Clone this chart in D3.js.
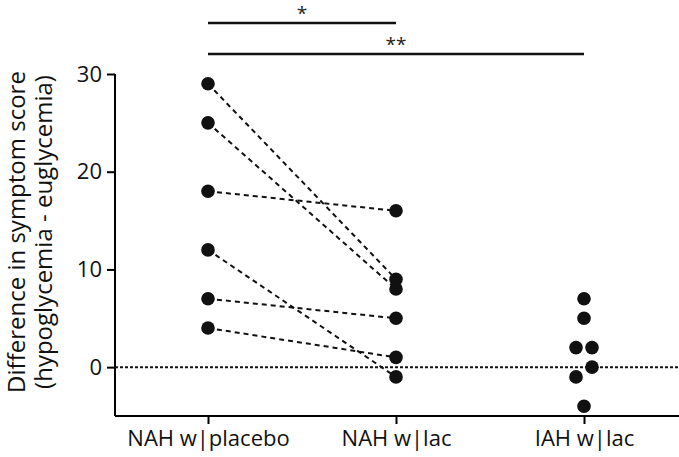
<!DOCTYPE html>
<html><head><meta charset="utf-8">
<script src="https://cdn.jsdelivr.net/npm/d3@7"></script>
<style>body{margin:0;background:#fff}</style>
</head><body>
<script>
const categories = ["NAH w|placebo", "NAH w|lac", "IAH w|lac"];
const placebo = [29, 25, 18, 12, 7, 4];
const nahLac = [9, 8, 16, -1, 5, 1];
const iahLac = [7, 5, 2, 2, 0, -1, -4];
const iahJitter = [0, 0, -1, 1, 1, -1, 0];
const yTicks = [0, 10, 20, 30];
const sigBars = [{from: 0, to: 1, label: "*"}, {from: 0, to: 2, label: "**"}];

const W = 679, H = 457;
const svg = d3.select("body").append("svg").attr("width", W).attr("height", H);
const font = "'Open Sans', sans-serif";

const x = d3.scalePoint().domain(categories).range([208, 584]);
const y = d3.scaleLinear().domain([-5, 30]).range([416, 74]);
const left = 115, right = 679;

// y axis
const yAxis = d3.axisLeft(y).tickValues(yTicks).tickSize(8).tickPadding(5).tickSizeOuter(0);
const gy = svg.append("g").attr("transform", `translate(${left},0)`).call(yAxis);
gy.select(".domain").attr("stroke-width", 2).attr("d", `M0,${y(30)}V${y(-5)}`);
gy.selectAll(".tick line").attr("stroke-width", 2);
gy.selectAll(".tick text").attr("font-family", font).attr("font-size", 22).attr("fill", "#111");

// x axis
const gx = svg.append("g").attr("transform", `translate(0,${y(-5)})`)
  .call(d3.axisBottom(x).tickSize(8).tickPadding(6).tickSizeOuter(0));
gx.select(".domain").attr("stroke-width", 2).attr("d", `M${left},0H${right}`);
gx.selectAll(".tick line").attr("stroke-width", 2);
gx.selectAll(".tick text").attr("font-family", font).attr("font-size", 22).attr("fill", "#111");

// zero line
svg.append("line").attr("x1", left).attr("x2", right).attr("y1", y(0)).attr("y2", y(0))
  .attr("stroke", "#111").attr("stroke-width", 2).attr("stroke-dasharray", "3,2");

// paired lines
const g = svg.append("g");
placebo.forEach((v, i) => {
  g.append("line").attr("x1", x(categories[0])).attr("y1", y(v))
    .attr("x2", x(categories[1])).attr("y2", y(nahLac[i]))
    .attr("stroke", "#111").attr("stroke-width", 2).attr("stroke-dasharray", "5,4");
});
const r = 6.8;
placebo.forEach(v => g.append("circle").attr("cx", x(categories[0])).attr("cy", y(v)).attr("r", r).attr("fill", "#111"));
nahLac.forEach(v => g.append("circle").attr("cx", x(categories[1])).attr("cy", y(v)).attr("r", r).attr("fill", "#111"));
iahLac.forEach((v, i) => g.append("circle").attr("cx", x(categories[2]) + iahJitter[i] * 8).attr("cy", y(v)).attr("r", r).attr("fill", "#111"));

// significance bars
const barY = [23, 54];
sigBars.forEach((b, i) => {
  const x1 = x(categories[b.from]), x2 = x(categories[b.to]);
  svg.append("line").attr("x1", x1).attr("x2", x2).attr("y1", barY[i]).attr("y2", barY[i])
    .attr("stroke", "#111").attr("stroke-width", 2.5);
  svg.append("text").attr("x", i === 0 ? (x1 + x2) / 2 : x(categories[1])).attr("y", barY[i] - 3)
    .attr("text-anchor", "middle").attr("font-family", font).attr("font-size", 19).attr("fill", "#222")
    .text(b.label);
});

// y label
const yl = svg.append("text").attr("transform", `translate(0,232) rotate(-90)`)
  .attr("text-anchor", "middle").attr("font-family", font).attr("font-size", 24).attr("fill", "#111");
yl.append("tspan").attr("x", 0).attr("y", 25).text("Difference in symptom score");
yl.append("tspan").attr("x", 0).attr("y", 52).text("(hypoglycemia - euglycemia)");
</script>
</body></html>
